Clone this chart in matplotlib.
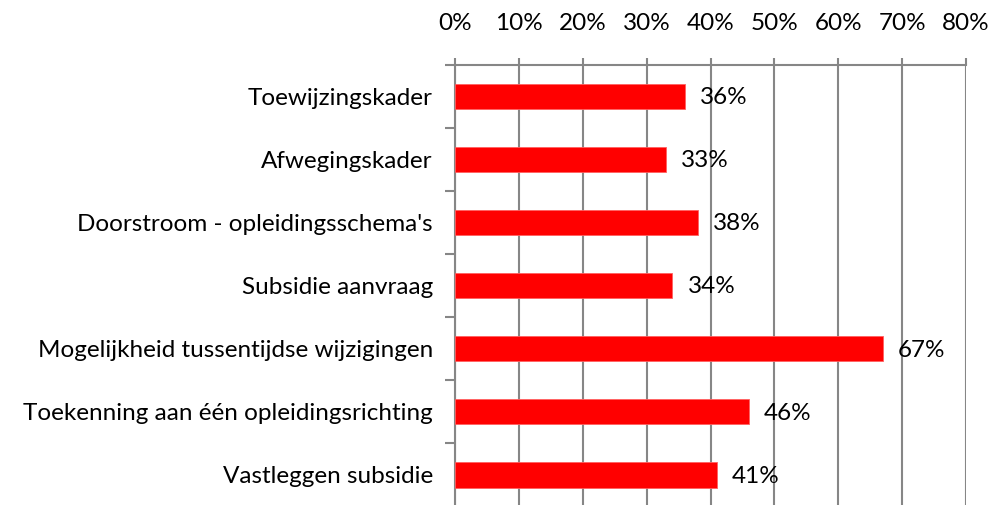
import numpy as np
import matplotlib
matplotlib.use('Agg')
import matplotlib.pyplot as plt
from matplotlib.ticker import FuncFormatter

# Datos del grafico
categorias = ["Toewijzingskader", "Afwegingskader", "Doorstroom - opleidingsschema's",
              "Subsidie aanvraag", "Mogelijkheid tussentijdse wijzigingen",
              "Toekenning aan één opleidingsrichting", "Vastleggen subsidie"]
porcentajes = [36, 33, 38, 34, 67, 46, 41]
ticks_x = [0, 10, 20, 30, 40, 50, 60, 70, 80]

GRIS = '#868686'
ROJO = '#FF0000'
TAM = 17.5

plt.rcParams['font.family'] = ['Lato', 'DejaVu Sans']

fig = plt.figure(figsize=(9.97, 5.05), dpi=100)
ax = fig.add_axes([455 / 997, -0.003, 511 / 997, 0.875])

y = np.arange(len(categorias))
ax.barh(y, porcentajes, height=0.4, color=ROJO, edgecolor='#FF6060', linewidth=0.6, zorder=3)

# Etiquetas de datos
for yi, v in zip(y, porcentajes):
    ax.annotate(f"{v}%", (v, yi), xytext=(11, -1), textcoords='offset points',
                va='center', ha='left', fontsize=TAM, color='black', zorder=4)

ax.set_xlim(0, 80)
ax.set_ylim(len(categorias) - 0.5, -0.5)
ax.set_xticks(ticks_x)
ax.xaxis.set_major_formatter(FuncFormatter(lambda v, p: f"{v:.0f}%"))
ax.xaxis.tick_top()
ax.tick_params(axis='x', which='major', direction='out', length=5, width=1.5,
               color=GRIS, labelsize=TAM, pad=17)
ax.grid(axis='x', color=GRIS, linewidth=1.5, zorder=0)

# Categorias en eje y con marcas entre categorias
ax.set_yticks(y)
ax.set_yticklabels(categorias, fontsize=TAM)
ax.tick_params(axis='y', which='major', length=0, pad=16)
ax.set_yticks(np.arange(len(categorias) + 1) - 0.5, minor=True)
ax.tick_params(axis='y', which='minor', direction='out', length=7, width=1.5, color=GRIS)

for lado in ['left', 'top']:
    ax.spines[lado].set_color(GRIS)
    ax.spines[lado].set_linewidth(1.5)
ax.spines['right'].set_visible(False)
ax.spines['bottom'].set_visible(False)

fig.savefig('out.png', dpi=100)
plt.close(fig)
